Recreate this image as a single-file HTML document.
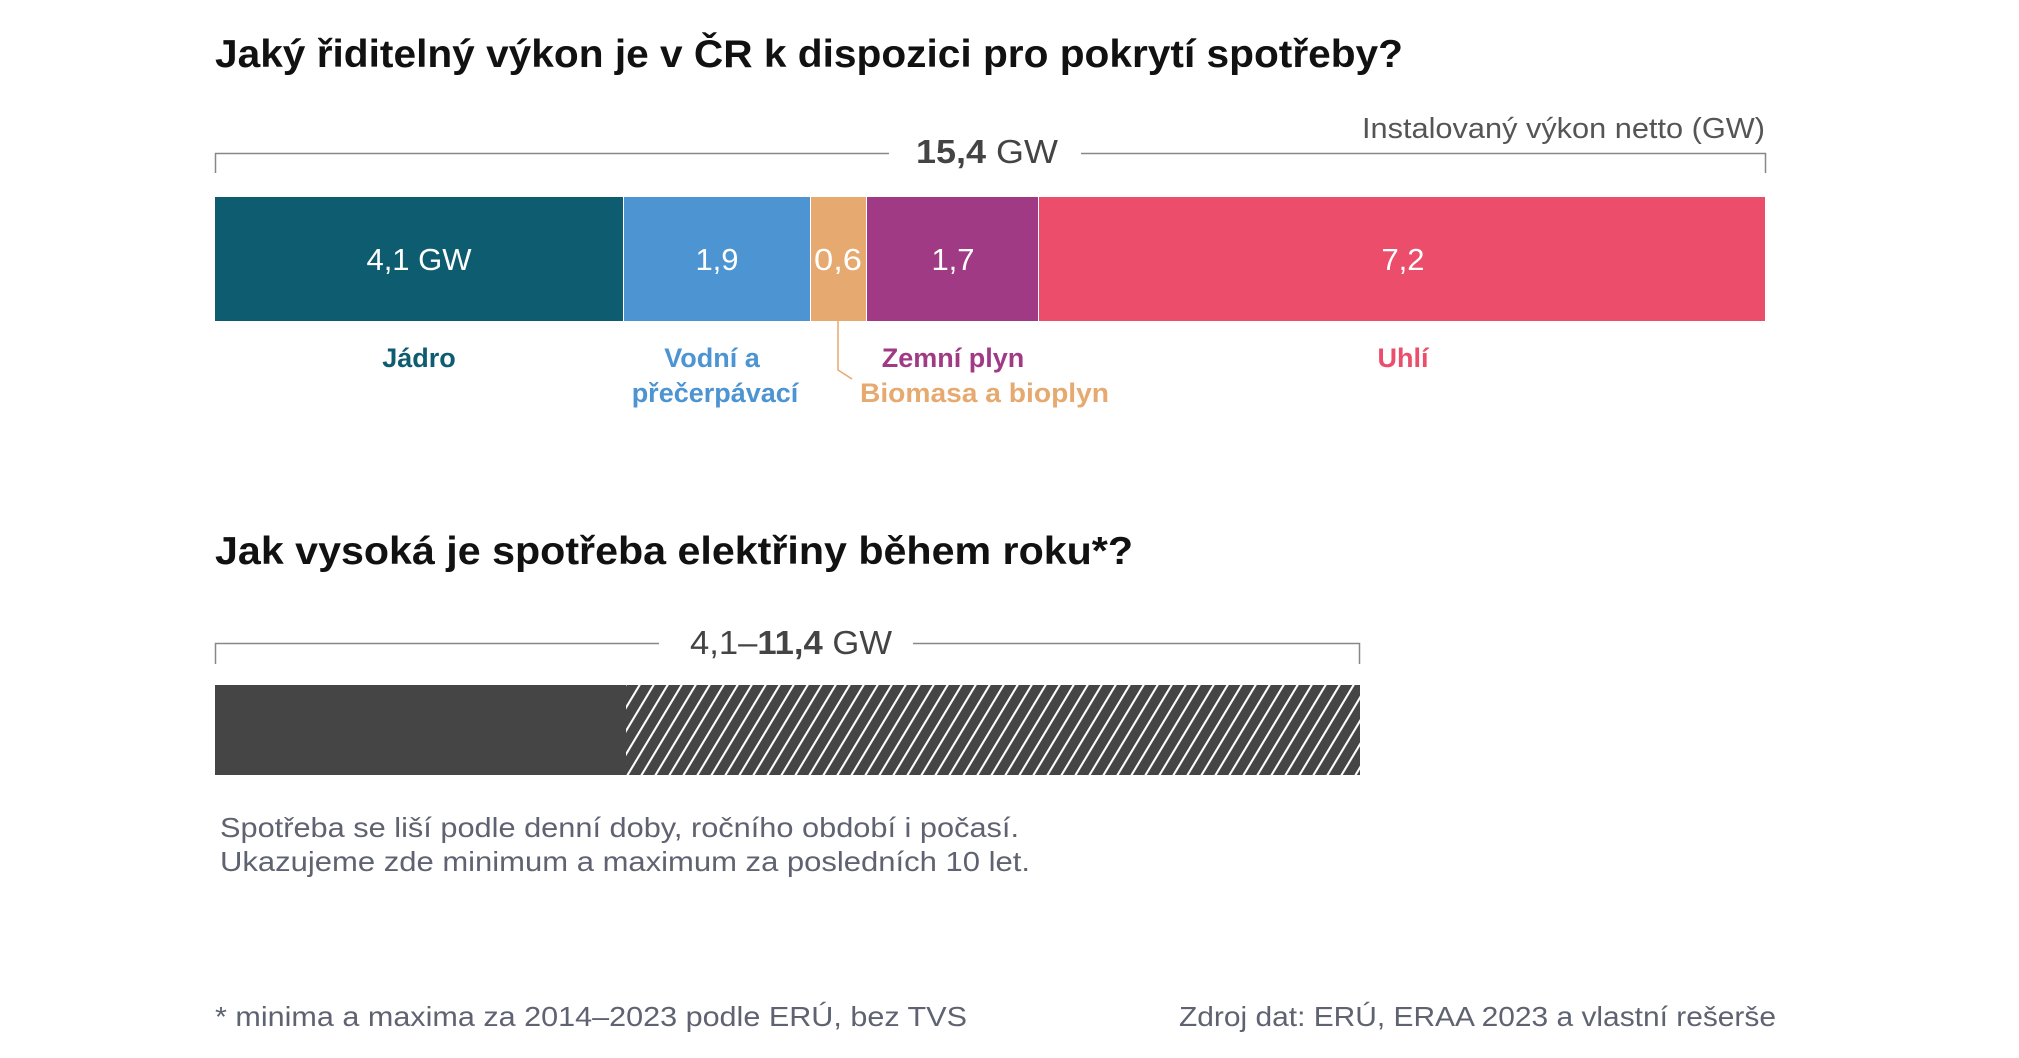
<!DOCTYPE html>
<html><head><meta charset="utf-8"><style>
html,body{margin:0;padding:0;background:#fff;}
svg{display:block;}
text{font-family:"Liberation Sans",sans-serif;}
</style></head><body>
<svg width="2019" height="1058" viewBox="0 0 2019 1058" xmlns="http://www.w3.org/2000/svg">
<defs>
<pattern id="h" patternUnits="userSpaceOnUse" width="14" height="14" patternTransform="skewX(-31)">
<rect width="14" height="14" fill="#454545"/>
<rect x="0" y="0" width="2.4" height="14" fill="#ffffff"/>
</pattern>
</defs>
<rect width="2019" height="1058" fill="#fff"/>
<text x="215" y="67" font-size="39" font-weight="bold" fill="#111" textLength="1188" lengthAdjust="spacingAndGlyphs">Jaký řiditelný výkon je v ČR k dispozici pro pokrytí spotřeby?</text>

<text x="1765" y="138" font-size="29" fill="#555" text-anchor="end" textLength="403" lengthAdjust="spacingAndGlyphs">Instalovaný výkon netto (GW)</text>
<path d="M215.5 173V153.5H889M1081 153.5H1765.5V173" fill="none" stroke="#888" stroke-width="1.5"/>
<text x="916" y="163" font-size="33" fill="#444" textLength="142" lengthAdjust="spacingAndGlyphs"><tspan font-weight="bold">15,4</tspan> GW</text>

<rect x="215" y="197" width="408" height="124" fill="#0e5c70"/>
<rect x="624" y="197" width="186" height="124" fill="#4c94d2"/>
<rect x="811" y="197" width="55" height="124" fill="#e6a96f"/>
<rect x="867" y="197" width="171" height="124" fill="#a13a85"/>
<rect x="1039" y="197" width="726" height="124" fill="#eb4d6b"/>
<g font-size="31" fill="#fff" text-anchor="middle">
<text x="419" y="270">4,1 GW</text>
<text x="717" y="270">1,9</text>
<text x="838" y="270" textLength="48" lengthAdjust="spacingAndGlyphs">0,6</text>
<text x="953" y="270">1,7</text>
<text x="1403" y="270">7,2</text>
</g>
<path d="M838 321V370L852 379" fill="none" stroke="#e6a96f" stroke-width="1.5"/>
<g font-size="27" font-weight="bold" text-anchor="middle">
<text x="419" y="367" fill="#0e5c70">Jádro</text>
<text x="712" y="367" fill="#4c94d2">Vodní a</text>
<text x="715" y="402" fill="#4c94d2">přečerpávací</text>
<text x="953" y="367" fill="#a13a85">Zemní plyn</text>
<text x="1403" y="367" fill="#eb4d6b">Uhlí</text>
</g>
<text x="860" y="402" font-size="27" font-weight="bold" fill="#e6a96f" textLength="249" lengthAdjust="spacingAndGlyphs">Biomasa a bioplyn</text>

<text x="215" y="564" font-size="39" font-weight="bold" fill="#111" textLength="918" lengthAdjust="spacingAndGlyphs">Jak vysoká je spotřeba elektřiny během roku*?</text>
<path d="M215.5 664V643.5H659M913 643.5H1359.5V664" fill="none" stroke="#888" stroke-width="1.5"/>
<text x="690" y="654" font-size="33" fill="#444" textLength="202" lengthAdjust="spacingAndGlyphs">4,1–<tspan font-weight="bold">11,4</tspan> GW</text>
<rect x="215" y="685" width="411" height="90" fill="#454545"/>
<rect x="626" y="685" width="734" height="90" fill="url(#h)"/>

<g font-size="28" fill="#5f6371">
<text x="220" y="837" textLength="799" lengthAdjust="spacingAndGlyphs">Spotřeba se liší podle denní doby, ročního období i počasí.</text>
<text x="220" y="871" textLength="810" lengthAdjust="spacingAndGlyphs">Ukazujeme zde minimum a maximum za posledních 10 let.</text>
<text x="215" y="1026" textLength="752" lengthAdjust="spacingAndGlyphs">* minima a maxima za 2014–2023 podle ERÚ, bez TVS</text>
<text x="1776" y="1026" text-anchor="end" textLength="597" lengthAdjust="spacingAndGlyphs">Zdroj dat: ERÚ, ERAA 2023 a vlastní rešerše</text>
</g>
</svg>
</body></html>
